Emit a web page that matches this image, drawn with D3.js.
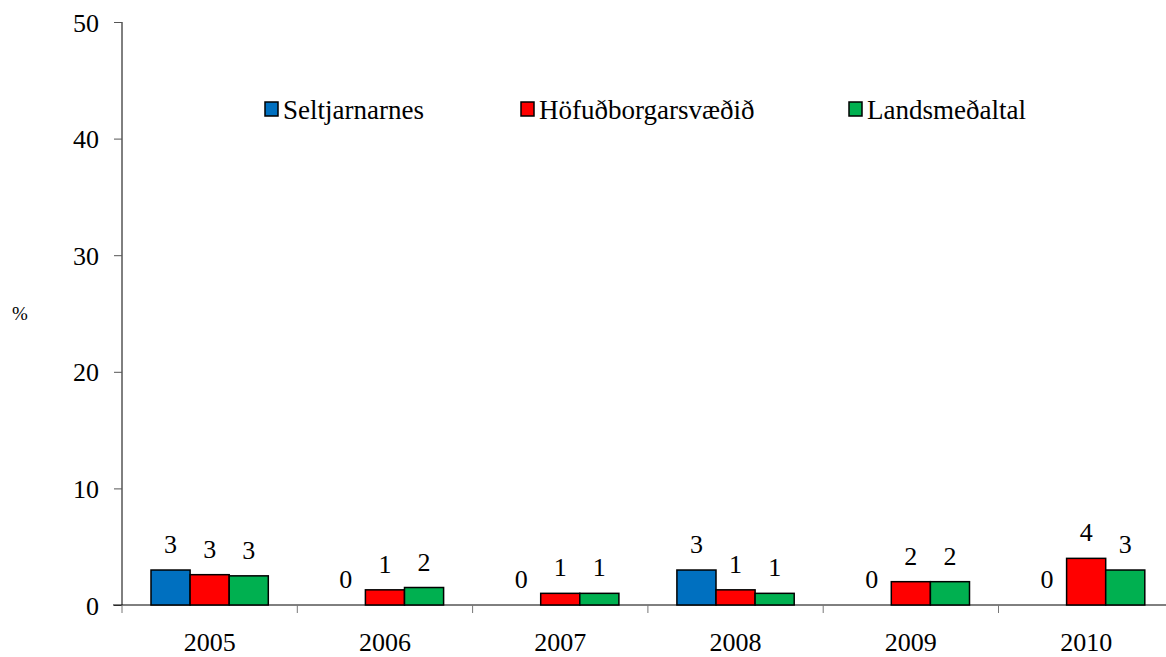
<!DOCTYPE html>
<html>
<head>
<meta charset="utf-8">
<script src="https://cdn.jsdelivr.net/npm/d3@7"></script>
<style>
  body { margin: 0; background: #fff; }
  svg text { font-family: "Liberation Serif", "Times New Roman", Times, "DejaVu Serif", serif; }
</style>
</head>
<body>
<svg width="1166" height="657"></svg>
<script>
const years = ["2005", "2006", "2007", "2008", "2009", "2010"];
const seriesNames = ["Seltjarnarnes", "Höfuðborgarsvæðið", "Landsmeðaltal"];
const seltjarnarnes = [3.0, 0, 0, 3.0, 0, 0];
const hofudborgarsvaedid = [2.6, 1.3, 1.0, 1.3, 2.0, 4.0];
const landsmedaltal = [2.5, 1.5, 1.0, 1.0, 2.0, 3.0];
const yTicks = [0, 10, 20, 30, 40, 50];

const colors = ["#0070C0", "#FF0000", "#00B050"];
const seriesValues = [seltjarnarnes, hofudborgarsvaedid, landsmedaltal];

const svg = d3.select("svg");
const plotLeft = 122, plotTop = 22, plotBottom = 605;
const plotRight = plotLeft + 6 * 175.3;

const x = d3.scaleBand().domain(years).range([plotLeft, plotRight]);
const inner = d3.scaleBand().domain(seriesNames).range([29, x.bandwidth() - 29]);
const y = d3.scaleLinear().domain([0, 50]).range([plotBottom, plotTop]);

const fmt = v => v.toFixed(0);

// y axis
const yAxis = svg.append("g")
  .attr("transform", `translate(${plotLeft},0)`)
  .call(d3.axisLeft(y).tickValues(yTicks).tickSize(8).tickPadding(15).tickFormat(d3.format("d")))
  .attr("font-family", null);
yAxis.select(".domain").attr("stroke", "#000").attr("d", `M0,${plotTop}V${plotBottom}`);
yAxis.selectAll(".tick line").attr("stroke", "#555");
yAxis.selectAll("text").attr("font-size", 26).attr("fill", "#000").attr("dy", "0.35em");

// x axis
const xAxis = svg.append("g")
  .attr("transform", `translate(0,${plotBottom})`)
  .call(d3.axisBottom(x).tickSize(0).tickPadding(27.5))
  .attr("font-family", null);
xAxis.select(".domain").attr("stroke", "#000").attr("d", `M${plotLeft - 9},0H${plotRight}`);
xAxis.selectAll("text").attr("font-size", 26).attr("fill", "#000");
xAxis.selectAll(".sep")
  .data(years.concat(["end"]))
  .join("line")
  .attr("class", "sep")
  .attr("x1", (d, i) => plotLeft + i * x.step())
  .attr("x2", (d, i) => plotLeft + i * x.step())
  .attr("y1", 0).attr("y2", 8)
  .attr("stroke", "#777");

// bars
const groups = svg.append("g")
  .selectAll("g")
  .data(years)
  .join("g")
  .attr("transform", d => `translate(${x(d)},0)`);

groups.selectAll("rect")
  .data((d, i) => seriesNames.map((s, k) => ({ s, k, v: seriesValues[k][i] })).filter(e => e.v > 0))
  .join("rect")
  .attr("x", d => inner(d.s))
  .attr("y", d => y(d.v))
  .attr("width", inner.bandwidth())
  .attr("height", d => y(0) - y(d.v))
  .attr("fill", d => colors[d.k])
  .attr("stroke", "#000")
  .attr("stroke-width", 1.5);

groups.selectAll("text")
  .data((d, i) => seriesNames.map((s, k) => ({ s, k, v: seriesValues[k][i] })))
  .join("text")
  .attr("x", d => inner(d.s) + inner.bandwidth() / 2)
  .attr("y", d => y(d.v) - 17)
  .attr("text-anchor", "middle")
  .attr("font-size", 26)
  .text(d => fmt(d.v));

// y label
svg.append("text")
  .attr("x", 20).attr("y", 320)
  .attr("text-anchor", "middle")
  .attr("font-size", 19)
  .text("%");

// legend
const legendX = [265, 521, 849];
const legend = svg.append("g")
  .selectAll("g")
  .data(seriesNames)
  .join("g")
  .attr("transform", (d, i) => `translate(${legendX[i]},102)`);
legend.append("rect")
  .attr("width", 13).attr("height", 14)
  .attr("fill", (d, i) => colors[i])
  .attr("stroke", "#000").attr("stroke-width", 1.5);
legend.append("text")
  .attr("x", 18).attr("y", 17)
  .attr("font-size", 27)
  .text(d => d);
</script>
</body>
</html>
